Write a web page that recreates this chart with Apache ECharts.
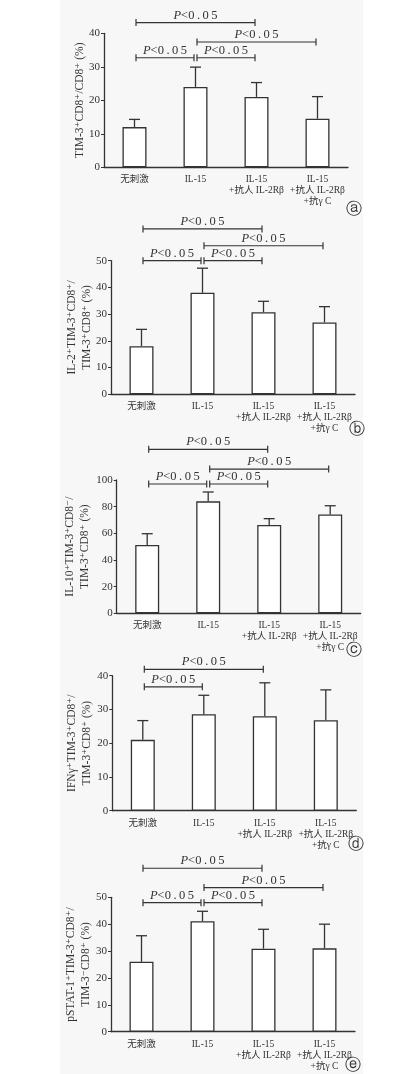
<!DOCTYPE html>
<html>
<head>
<meta charset="utf-8">
<script src="https://cdn.jsdelivr.net/npm/echarts@6/dist/echarts.min.js"></script>
<style>
html,body{margin:0;padding:0;background:#fff;}
#c{width:394px;height:1074px;}
</style>
</head>
<body>
<div id="c"></div>
<script>
// ---- data ----
const categories = ['无刺激', 'IL-15', 'IL-15\n+抗人 IL-2Rβ', 'IL-15\n+抗人 IL-2Rβ\n+抗γ C'];

const meanA = [12, 24, 21, 14.5];
const upperA = [14.3, 29.9, 25.3, 21.1];
const meanB = [18, 38, 30.7, 26.9];
const upperB = [24.3, 47.2, 34.8, 32.8];
const meanC = [51.2, 84, 66.2, 74.2];
const upperC = [59.7, 91, 71, 80.7];
const meanD = [21, 28.6, 28, 26.8];
const upperD = [26.7, 34.2, 37.9, 35.8];
const meanE = [26, 41.1, 30.9, 31];
const upperE = [35.7, 44.8, 38.1, 40];

// significance brackets: [fromCategory, toCategory, level (data units)]
const sigA = [[0, 2, 43.2], [1, 3, 37.4], [0, 1, 32.7], [1, 2, 32.7]];
const sigB = [[0, 2, 61.9], [1, 3, 55.6], [0, 1, 50], [1, 2, 50]];
const sigC = [[0, 2, 123], [1, 3, 108.2], [0, 1, 97], [1, 2, 97]];
const sigD = [[0, 2, 41.9], [0, 1, 36.7]];
const sigE = [[0, 2, 60.8], [1, 3, 53.6], [0, 1, 48], [1, 2, 48]];
const sigLabel = 'P';
const sigText = '<0\u2009.\u20090\u20095';

const yMaxes = [40, 50, 100, 40, 50];
const yIntervals = [10, 10, 20, 10, 10];
const yNames = [
  'TIM-3⁺CD8⁺/CD8⁺ (%)',
  'IL-2⁺TIM-3⁺CD8⁺/\nTIM-3⁺CD8⁺ (%)',
  'IL-10⁺TIM-3⁺CD8⁻/\nTIM-3⁺CD8⁺ (%)',
  'IFNγ⁺TIM-3⁺CD8⁺/\nTIM-3⁺CD8⁺ (%)',
  'pSTAT-1⁺TIM-3⁺CD8⁺/\nTIM-3⁻CD8⁺ (%)'
];
const panelLetters = ['ⓐ', 'ⓑ', 'ⓒ', 'ⓓ', 'ⓔ'];

// ---- layout ----
const panels = [
  {left: 104,   top: 33.3,  height: 134,   gap: 16.5, letter: [354, 210]},
  {left: 111,   top: 260.7, height: 133.6, gap: 16.5, letter: [357, 430]},
  {left: 116.7, top: 480,   height: 133.3, gap: 24,   letter: [354, 651]},
  {left: 112.3, top: 675.7, height: 135,   gap: 17.8, letter: [356, 845]},
  {left: 111,   top: 897.3, height: 134.4, gap: 17.5, letter: [353, 1066]}
];
const means = [meanA, meanB, meanC, meanD, meanE];
const uppers = [upperA, upperB, upperC, upperD, upperE];
const sigs = [sigA, sigB, sigC, sigD, sigE];

const serif = '"Liberation Serif", "DejaVu Serif", "Noto Sans CJK SC", serif';
const ink = '#333';

const grid = [], xAxis = [], yAxis = [], series = [], graphic = [];

graphic.push({type: 'rect', shape: {x: 60, y: 0, width: 303, height: 1074}, style: {fill: '#f7f7f7'}, z: -10, silent: true});

panels.forEach((p, i) => {
  grid.push({left: p.left, top: p.top, height: p.height, width: 244, containLabel: false});
  xAxis.push({
    type: 'category', gridIndex: i, data: categories,
    axisLine: {lineStyle: {color: ink, width: 1.3}},
    axisTick: {alignWithLabel: true, length: 3, lineStyle: {color: ink}},
    axisLabel: {interval: 0, fontFamily: serif, fontSize: 9.5, lineHeight: 11, color: ink, margin: 7}
  });
  yAxis.push({
    type: 'value', gridIndex: i, min: 0, max: yMaxes[i], interval: yIntervals[i],
    name: yNames[i], nameLocation: 'middle', nameRotate: 90, nameGap: p.gap,
    nameMoveOverlap: false,
    nameTextStyle: {fontFamily: serif, fontSize: 11.5, lineHeight: 15, color: ink},
    axisLine: {show: true, lineStyle: {color: ink, width: 1.3}},
    axisTick: {show: true, length: 3, lineStyle: {color: ink}},
    splitLine: {show: false},
    axisLabel: {fontFamily: serif, fontSize: 11, color: ink, margin: 4}
  });
  series.push({
    type: 'bar', xAxisIndex: i, yAxisIndex: i, data: means[i], barWidth: 24,
    itemStyle: {color: '#fff', borderColor: ink, borderWidth: 1.3},
    silent: true, animation: false
  });
  series.push({
    type: 'custom', xAxisIndex: i, yAxisIndex: i,
    data: means[i].map((m, k) => [k, m, uppers[i][k]]),
    encode: {x: 0, y: [1, 2]},
    renderItem: function (params, api) {
      const a = api.coord([api.value(0), api.value(1)]);
      const b = api.coord([api.value(0), api.value(2)]);
      const st = {stroke: ink, lineWidth: 1.3};
      return {type: 'group', children: [
        {type: 'line', shape: {x1: a[0], y1: a[1], x2: b[0], y2: b[1]}, style: st},
        {type: 'line', shape: {x1: b[0] - 5.5, y1: b[1], x2: b[0] + 5.5, y2: b[1]}, style: st}
      ]};
    },
    silent: true, animation: false, z: 3
  });
  series.push({
    type: 'custom', xAxisIndex: i, yAxisIndex: i, clip: false,
    data: sigs[i],
    encode: {x: [0, 1], y: 2},
    renderItem: function (params, api) {
      const a = api.coord([api.value(0), api.value(2)]);
      const b = api.coord([api.value(1), api.value(2)]);
      const x1 = a[0] + 1.5, x2 = b[0] - 1.5, y = a[1];
      const st = {stroke: ink, lineWidth: 1.2};
      return {type: 'group', children: [
        {type: 'line', shape: {x1: x1, y1: y, x2: x2, y2: y}, style: st},
        {type: 'line', shape: {x1: x1, y1: y - 3.5, x2: x1, y2: y + 3.5}, style: st},
        {type: 'line', shape: {x1: x2, y1: y - 3.5, x2: x2, y2: y + 3.5}, style: st},
        {type: 'text', style: {
          x: (x1 + x2) / 2, y: y - 1, align: 'center', verticalAlign: 'bottom',
          text: '{i|' + sigLabel + '}{n|' + sigText + '}',
          rich: {
            i: {fontFamily: serif, fontStyle: 'italic', fontSize: 12.5, fill: ink},
            n: {fontFamily: serif, fontSize: 12.5, fill: ink}
          }
        }}
      ]};
    },
    silent: true, animation: false, z: 4
  });
  graphic.push({
    type: 'text', x: p.letter[0], y: p.letter[1],
    style: {text: panelLetters[i], font: '16px "DejaVu Sans", sans-serif', fill: ink, align: 'center', verticalAlign: 'middle'}
  });
});

const chart = echarts.init(document.getElementById('c'), null, {renderer: 'canvas'});
chart.setOption({
  animation: false,
  backgroundColor: '#fff',
  grid: grid, xAxis: xAxis, yAxis: yAxis, series: series, graphic: graphic
});
</script>
</body>
</html>
